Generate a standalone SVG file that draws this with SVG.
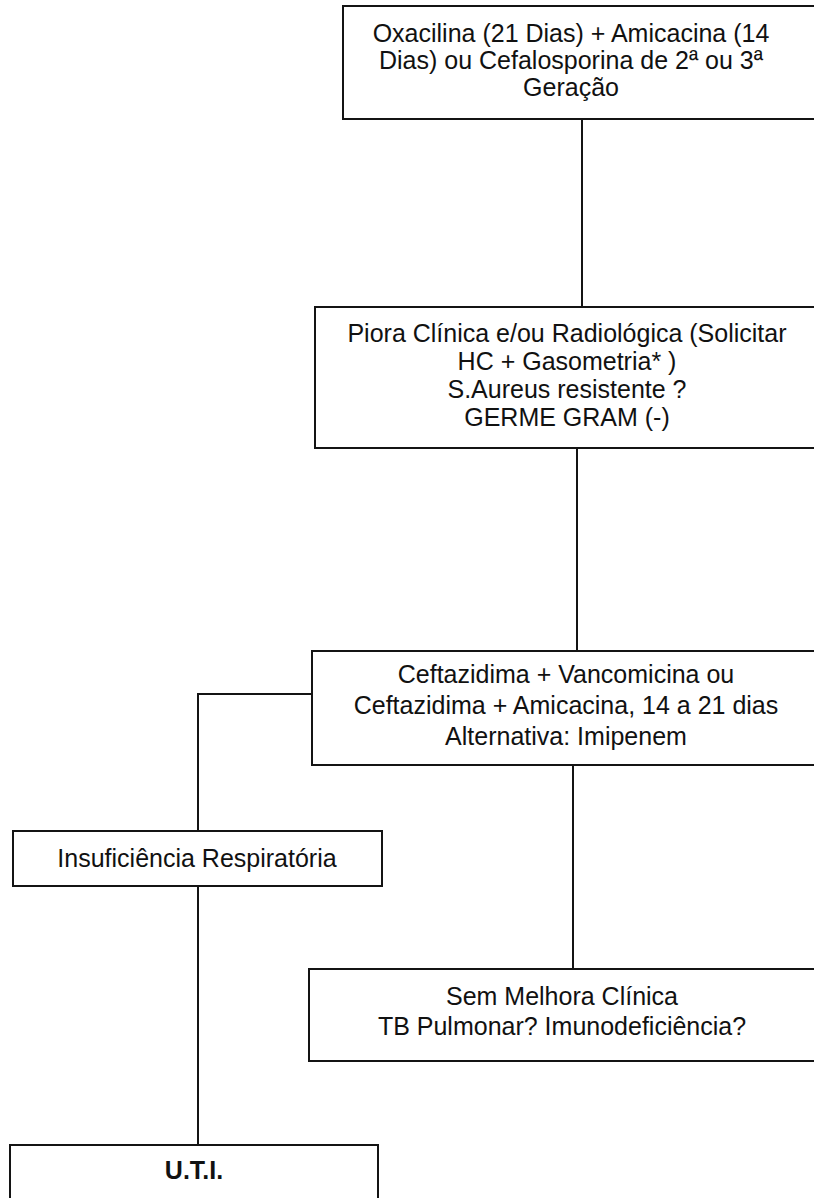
<svg xmlns="http://www.w3.org/2000/svg" width="814" height="1198" viewBox="0 0 814 1198">
  <style>
    .box { fill: #ffffff; stroke: #141414; stroke-width: 2; }
    .link { fill: none; stroke: #141414; stroke-width: 2; }
    .t { font-family: "Liberation Sans", Arial, sans-serif; font-size: 25px; fill: #111111; text-anchor: middle; }
    .b { font-weight: bold; }
  </style>
  <rect width="814" height="1198" fill="#ffffff"/>

  <!-- connectors -->
  <g id="connectors">
    <path class="link" d="M582,119 L582,307"/>
    <path class="link" d="M577,448 L577,651"/>
    <path class="link" d="M573,765 L573,969"/>
    <path class="link" d="M312,694 L198,694 L198,831"/>
    <path class="link" d="M198,886 L198,1145"/>
  </g>

  <g id="n-oxacilina">
    <rect class="box" x="343" y="6" width="490" height="113"/>
    <text class="t" x="571" y="42">Oxacilina (21 Dias) + Amicacina (14</text>
    <text class="t" x="571" y="69">Dias) ou Cefalosporina de 2ª ou 3ª</text>
    <text class="t" x="571" y="96">Geração</text>
  </g>

  <g id="n-piora">
    <rect class="box" x="315" y="307" width="520" height="141"/>
    <text class="t" x="567" y="342">Piora Clínica e/ou Radiológica (Solicitar</text>
    <text class="t" x="567" y="370">HC + Gasometria* )</text>
    <text class="t" x="567" y="398">S.Aureus resistente ?</text>
    <text class="t" x="567" y="426">GERME GRAM (-)</text>
  </g>

  <g id="n-ceftazidima">
    <rect class="box" x="312" y="651" width="520" height="114"/>
    <text class="t" x="566" y="683">Ceftazidima + Vancomicina ou</text>
    <text class="t" x="566" y="714">Ceftazidima + Amicacina, 14 a 21 dias</text>
    <text class="t" x="566" y="745">Alternativa: Imipenem</text>
  </g>

  <g id="n-insuficiencia">
    <rect class="box" x="13" y="831" width="369" height="55"/>
    <text class="t" x="197" y="867">Insuficiência Respiratória</text>
  </g>

  <g id="n-sem-melhora">
    <rect class="box" x="309" y="969" width="520" height="92"/>
    <text class="t" x="562" y="1005">Sem Melhora Clínica</text>
    <text class="t" x="562" y="1035">TB Pulmonar? Imunodeficiência?</text>
  </g>

  <g id="n-uti">
    <rect class="box" x="10" y="1145" width="368" height="80"/>
    <text class="t b" x="194" y="1179">U.T.I.</text>
  </g>
</svg>
